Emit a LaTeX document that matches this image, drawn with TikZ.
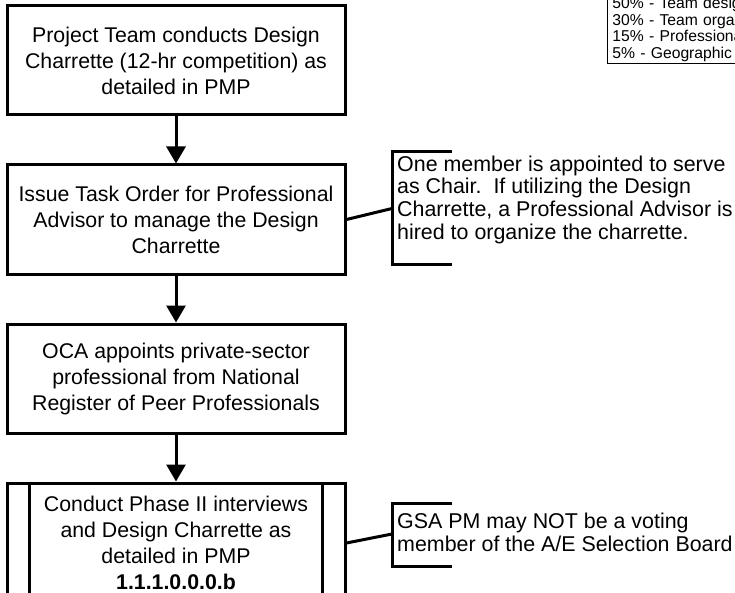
\documentclass[tikz,border=0pt]{standalone}
\usepackage{fontspec}
\setmainfont{Liberation Sans}
\usetikzlibrary{positioning,arrows.meta,calc}

\begin{document}
\begin{tikzpicture}[
		x=1pt, y=-1pt,
		node distance=47pt,
		box/.style={draw, line width=3pt, minimum width=338pt, minimum height=109pt, align=center, inner sep=0pt, font=\fontsize{21.3}{26}\selectfont},
		arrow/.style={-{Triangle[length=17pt, width=19pt]}, line width=3pt},
		bracket/.style={line width=3pt},
		note/.style={align=left, inner sep=0pt, anchor=north west, font=\fontsize{21.4}{22.7}\selectfont},
		legend/.style={draw, line width=0.9pt, align=left, anchor=south west, text width=210pt, inner xsep=5pt, inner ysep=1.5pt, font=\fontsize{15.7}{16.8}\selectfont}
		]
		\clip (0,0) rectangle (735,593);
		
		\node[box] (charrette) at (176,60.5) {Project Team conducts Design\\ Charrette (12-hr competition) as\\ detailed in PMP};
		\node[box, below=of charrette] (taskorder) {Issue Task Order for Professional\\ Advisor to manage the Design\\ Charrette};
		\node[box, below=of taskorder] (appoint) {OCA appoints private-sector\\ professional from National\\ Register of Peer Professionals};
		\node[box, below=of appoint, minimum height=120pt] (phase) {Conduct Phase II interviews\\ and Design Charrette as\\ detailed in PMP\\ \textbf{1.1.1.0.0.0.b}};
		\draw[bracket] ([xshift=24pt]phase.north west) -- ([xshift=24pt]phase.south west);
		\draw[bracket] ([xshift=-24pt]phase.north east) -- ([xshift=-24pt]phase.south east);
		
		\draw[arrow] (charrette) -- (taskorder);
		\draw[arrow] (taskorder) -- (appoint);
		\draw[arrow] (appoint) -- (phase);
		
		% annotations
		\coordinate (chairbrace) at (392,208.5);
		\draw[bracket] (taskorder.east) -- (chairbrace);
		\draw[bracket] ($(chairbrace)+(60,-56.5)$) -- ++(-60,0) -- ++(0,113) -- ++(60,0);
		\node[note] (chairnote) at ($(chairbrace)+(5,-53)$) {One member is appointed to serve\\ as Chair.\ \ If utilizing the Design\\ Charrette, a Professional Advisor is\\ hired to organize the charrette.};
		
		\coordinate (votebrace) at (392,534);
		\draw[bracket] (phase.east) -- (votebrace);
		\draw[bracket] ($(votebrace)+(60,-31)$) -- ++(-60,0) -- ++(0,63) -- ++(60,0);
		\node[note] (votenote) at ($(votebrace)+(5,-21)$) {GSA PM may NOT be a voting\\ member of the A/E Selection Board};
		
		\node[legend] (weights) at (607,64) {50\% - Team design\\ 30\% - Team organization\\ 15\% - Professional\\ 5\% - Geographic};
		
	\end{tikzpicture}
\end{document}
